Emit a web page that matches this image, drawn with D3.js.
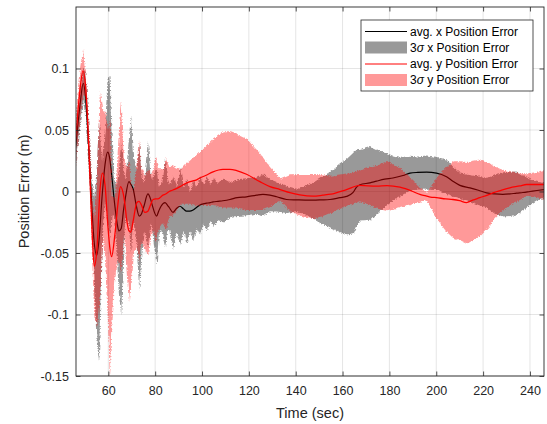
<!DOCTYPE html>
<html lang="en">
<head>
<meta charset="utf-8">
<title>Position Error</title>
<script src="https://cdn.jsdelivr.net/npm/d3@7"></script>
<style>
    body { margin: 0; background: #fff; }
    svg { display: block; font-family: "Liberation Sans", Arial, sans-serif; }
    .tick-label { font-size: 12.5px; fill: #262626; }
    .axis-title { font-size: 14.5px; fill: #262626; }
    .legend-text { font-size: 12px; fill: #000; }
</style>
</head>
<body>
<div id="chart"></div>
<script>
// x position error: time (sec), mean, 3-sigma half width
var tX = [46, 47.9, 49.3, 50.2, 50.9, 52.6, 53.9, 55, 56, 57.3, 58.6, 59.7, 60.5, 61.5, 62.4, 63.7, 64.5, 65.5, 66.5, 67.3,
    68.8, 69.6, 70.6, 72, 73.2, 74.2, 75.2, 76.9, 78, 78.6, 80.6, 81.5, 82.5, 84.2, 85.2, 86, 87.6, 89, 90.6, 92,
    93.4, 94.8, 96.2, 97.6, 99.1, 100.5, 102, 103.5, 104.7, 106.8, 108.9, 111.9, 115, 119, 123.3, 126, 129, 131.9, 136.1, 140.4,
    144, 147.4, 151, 154.6, 158.9, 161.7, 164.4, 166, 167.4, 171.7, 174.5, 178, 181.5, 185.8, 188.8, 192, 195.9, 200.1, 204.4, 207.1,
    210.1, 214.4, 218, 221.5, 225, 228.4, 231.5, 234.3, 237, 240, 243, 246.4];
var avgX = [0.035, 0.07, 0.088, 0.078, 0.06, 0.0, -0.04, -0.052, -0.04, -0.005, 0.022, 0.032, 0.028, 0.012, -0.005, -0.025, -0.032, -0.03, -0.015, -0.005,
    0.008, 0.006, 0.002, -0.012, -0.02, -0.018, -0.012, -0.002, -0.006, -0.01, -0.02, -0.016, -0.012, -0.009, -0.011, -0.013, -0.017, -0.014, -0.012, -0.014,
    -0.016, -0.016, -0.015, -0.013, -0.011, -0.01, -0.0095, -0.009, -0.0085, -0.008, -0.0075, -0.0065, -0.005, -0.0043, -0.003, -0.0024, -0.003, -0.0043, -0.0065, -0.0068,
    -0.007, -0.007, -0.0068, -0.0065, -0.005, -0.004, -0.001, 0.0035, 0.0055, 0.007, 0.0084, 0.01, 0.011, 0.013, 0.015, 0.0155, 0.0157, 0.015, 0.012, 0.0084,
    0.005, 0.003, 0.001, -0.0011, -0.002, -0.0024, -0.002, -0.0013, -0.0008, 0.0, 0.0008, 0.0016];
var sig3X = [0.012, 0.015, 0.013, 0.018, 0.02, 0.012, 0.035, 0.07, 0.097, 0.03, 0.03, 0.06, 0.066, 0.03, 0.015, 0.03, 0.05, 0.07, 0.03, 0.015,
    0.035, 0.056, 0.025, 0.03, 0.06, 0.03, 0.02, 0.043, 0.02, 0.02, 0.04, 0.02, 0.018, 0.036, 0.02, 0.018, 0.03, 0.018, 0.032, 0.018,
    0.026, 0.016, 0.025, 0.016, 0.024, 0.016, 0.022, 0.015, 0.02, 0.015, 0.018, 0.014, 0.015, 0.015, 0.015, 0.017, 0.013, 0.012, 0.011, 0.009,
    0.012, 0.015, 0.019, 0.023, 0.028, 0.031, 0.033, 0.031, 0.029, 0.03, 0.026, 0.022, 0.018, 0.015, 0.014, 0.013, 0.0135, 0.013, 0.014, 0.012,
    0.0105, 0.011, 0.012, 0.012, 0.016, 0.018, 0.018, 0.0175, 0.014, 0.0105, 0.008, 0.006];

// y position error: time (sec), mean, 3-sigma half width
var tY = [46, 47.5, 49.2, 50.5, 51.8, 53, 54, 55.2, 56.4, 57.5, 58.6, 59.9, 60.6, 61.4, 62.8, 64.1, 65.2, 66.7, 68, 68.8,
    69.6, 70.5, 72.2, 73.1, 73.9, 75.6, 76.9, 78, 79.1, 80.2, 81.2, 83.3, 84.5, 86, 87.3, 88.5, 90.6, 92.5, 94.9, 97.7,
    99.1, 101.5, 104.7, 108.9, 111.9, 114.8, 119, 124.7, 129, 133.3, 137.5, 141.8, 147.4, 151.6, 155, 161.7, 167.4, 174.5, 179, 184.5,
    190, 193, 195.6, 197.5, 200.1, 204, 207.1, 210, 212.9, 215.5, 218.6, 222.4, 224.2, 227.7, 231.4, 235.7, 238.6, 242, 246.4];
var avgY = [0.04, 0.075, 0.098, 0.08, 0.03, -0.03, -0.061, -0.045, 0.0, 0.015, 0.005, -0.03, -0.045, -0.053, -0.035, -0.01, 0.004, -0.005, -0.025, -0.032,
    -0.033, -0.025, -0.009, -0.008, -0.01, -0.017, -0.016, -0.011, -0.0065, -0.006, -0.006, -0.003, -0.002, 0.0, 0.001, 0.002, 0.004, 0.006, 0.008, 0.0095,
    0.011, 0.013, 0.016, 0.018, 0.018, 0.017, 0.014, 0.008, 0.004, 0.0016, -0.001, -0.0028, -0.0038, -0.003, -0.0022, 0.0016, 0.005, 0.0043, 0.0048, 0.0035,
    0.0, -0.0024, -0.0035, -0.0045, -0.005, -0.006, -0.0065, -0.0075, -0.009, -0.007, -0.005, -0.0025, -0.0011, 0.001, 0.003, 0.0045, 0.0057, 0.0057, 0.0057];
var sig3Y = [0.02, 0.02, 0.018, 0.008, 0.012, 0.02, 0.04, 0.065, 0.082, 0.05, 0.06, 0.08, 0.105, 0.05, 0.03, 0.045, 0.07, 0.03, 0.045, 0.057,
    0.04, 0.025, 0.035, 0.05, 0.03, 0.03, 0.035, 0.025, 0.025, 0.035, 0.025, 0.022, 0.03, 0.02, 0.021, 0.018, 0.014, 0.016, 0.018, 0.021,
    0.022, 0.024, 0.027, 0.031, 0.031, 0.03, 0.029, 0.023, 0.016, 0.009, 0.015, 0.017, 0.018, 0.017, 0.015, 0.013, 0.013, 0.0175, 0.02, 0.016,
    0.0095, 0.006, 0.003, 0.008, 0.017, 0.026, 0.031, 0.032, 0.033, 0.032, 0.031, 0.026, 0.022, 0.017, 0.0135, 0.011, 0.009, 0.01, 0.012];

var xTicks = [60, 80, 100, 120, 140, 160, 180, 200, 220, 240];
var yTicks = [-0.15, -0.1, -0.05, 0, 0.05, 0.1];
var yTickText = ["-0.15", "-0.1", "-0.05", "0", "0.05", "0.1"];
var legendNames = ["avg. x Position Error", "x Position Error", "avg. y Position Error", "y Position Error"];

var svgW = 547, svgH = 424;
var plotL = 76, plotR = 544, plotT = 7, plotB = 376;

var svg = d3.select("#chart").append("svg")
    .attr("width", svgW)
    .attr("height", svgH);

var x = d3.scaleLinear().domain([46.2, 246]).range([plotL, plotR]);
var y = d3.scaleLinear().domain([-0.15, 0.15]).range([plotB, plotT]);

var defs = svg.append("defs");
defs.append("clipPath").attr("id", "plot-clip")
    .append("rect")
    .attr("x", plotL).attr("y", plotT)
    .attr("width", plotR - plotL).attr("height", plotB - plotT);

// ragged edges for the sampled 3-sigma envelopes
var rough = defs.append("filter").attr("id", "rough")
    .attr("x", "-2%").attr("y", "-10%").attr("width", "104%").attr("height", "120%");
rough.append("feTurbulence").attr("type", "turbulence")
    .attr("baseFrequency", "0.35 0.3").attr("numOctaves", 2).attr("seed", 5).attr("result", "noise");
rough.append("feDisplacementMap").attr("in", "SourceGraphic").attr("in2", "noise")
    .attr("scale", 1.7).attr("xChannelSelector", "R").attr("yChannelSelector", "G");

// grid
var grid = svg.append("g").attr("stroke", "#262626").attr("stroke-opacity", 0.15).attr("stroke-width", 0.8);
grid.selectAll(".gx").data(xTicks).enter().append("line")
    .attr("x1", function(d) { return x(d); }).attr("x2", function(d) { return x(d); })
    .attr("y1", plotT).attr("y2", plotB);
grid.selectAll(".gy").data(yTicks).enter().append("line")
    .attr("x1", plotL).attr("x2", plotR)
    .attr("y1", function(d) { return y(d); }).attr("y2", function(d) { return y(d); });

function series(t, m, s) {
    return t.map(function(d, i) { return { t: d, m: m[i], lo: m[i] - s[i], hi: m[i] + s[i] }; });
}
var serX = series(tX, avgX, sig3X);
var serY = series(tY, avgY, sig3Y);

var line = d3.line().curve(d3.curveMonotoneX)
    .x(function(d) { return x(d.t); }).y(function(d) { return y(d.m); });
var area = d3.area().x(function(d) { return x(d.t); })
    .y0(function(d) { return y(d.lo); }).y1(function(d) { return y(d.hi); });

var plot = svg.append("g").attr("clip-path", "url(#plot-clip)");
plot.append("path").datum(serX).attr("d", line)
    .attr("fill", "none").attr("stroke", "#000").attr("stroke-width", 1.2);
plot.append("path").datum(serX).attr("d", area)
    .attr("fill", "#000").attr("fill-opacity", 0.4).attr("filter", "url(#rough)");
plot.append("path").datum(serY).attr("d", line)
    .attr("fill", "none").attr("stroke", "#ff0000").attr("stroke-width", 1.3);
plot.append("path").datum(serY).attr("d", area)
    .attr("fill", "#ff0000").attr("fill-opacity", 0.4).attr("filter", "url(#rough)");

// axes box with inward ticks on all sides
var axisColor = "#262626";
var tickLen = 4.5;
var axisBottom = d3.axisBottom(x).tickValues(xTicks).tickSizeInner(-tickLen).tickSizeOuter(0).tickPadding(10);
var axisTop = d3.axisTop(x).tickValues(xTicks).tickSizeInner(-tickLen).tickSizeOuter(0).tickFormat("");
var axisLeft = d3.axisLeft(y).tickValues(yTicks).tickSizeInner(-tickLen).tickSizeOuter(0).tickPadding(7)
    .tickFormat(function(d, i) { return yTickText[i]; });
var axisRight = d3.axisRight(y).tickValues(yTicks).tickSizeInner(-tickLen).tickSizeOuter(0).tickFormat("");

function styleAxis(g) {
    g.select(".domain").remove();
    g.selectAll(".tick line").attr("stroke", axisColor).attr("stroke-width", 0.8);
    g.selectAll(".tick text").attr("class", "tick-label").attr("font-family", null).attr("font-size", null).attr("fill", null);
}
svg.append("g").attr("transform", "translate(0," + plotB + ")").call(axisBottom).call(styleAxis);
svg.append("g").attr("transform", "translate(0," + plotT + ")").call(axisTop).call(styleAxis);
svg.append("g").attr("transform", "translate(" + plotL + ",0)").call(axisLeft).call(styleAxis);
svg.append("g").attr("transform", "translate(" + plotR + ",0)").call(axisRight).call(styleAxis);

svg.append("rect")
    .attr("x", plotL).attr("y", plotT)
    .attr("width", plotR - plotL).attr("height", plotB - plotT)
    .attr("fill", "none").attr("stroke", axisColor).attr("stroke-width", 0.9);

// axis titles
svg.append("text").attr("class", "axis-title")
    .attr("x", (plotL + plotR) / 2).attr("y", 418)
    .attr("text-anchor", "middle")
    .text("Time (sec)");
svg.append("text").attr("class", "axis-title")
    .attr("transform", "translate(29," + ((plotT + plotB) / 2) + ") rotate(-90)")
    .attr("text-anchor", "middle")
    .text("Position Error (m)");

// legend
var lg = svg.append("g");
lg.append("rect")
    .attr("x", 361).attr("y", 20).attr("width", 172).attr("height", 71)
    .attr("fill", "#fff").attr("stroke", axisColor).attr("stroke-width", 0.8);
var rowY = [31.5, 47.5, 64, 80];
var kinds = [
    { type: "line", color: "#000" },
    { type: "patch", color: "#000" },
    { type: "line", color: "#ff0000" },
    { type: "patch", color: "#ff0000" }
];
kinds.forEach(function(k, i) {
    if (k.type === "line") {
        lg.append("line")
            .attr("x1", 365).attr("x2", 407)
            .attr("y1", rowY[i]).attr("y2", rowY[i])
            .attr("stroke", k.color).attr("stroke-width", 1);
    } else {
        lg.append("rect")
            .attr("x", 365).attr("y", rowY[i] - 6).attr("width", 42).attr("height", 12)
            .attr("fill", k.color).attr("fill-opacity", 0.4);
    }
    var txt = lg.append("text").attr("class", "legend-text")
        .attr("x", 410).attr("y", rowY[i] + 4.3);
    if (k.type === "patch") {
        txt.append("tspan").text("3");
        txt.append("tspan").attr("font-style", "italic").text("\u03c3");
        txt.append("tspan").text(" " + legendNames[i]);
    } else {
        txt.text(legendNames[i]);
    }
});
</script>
</body>
</html>
